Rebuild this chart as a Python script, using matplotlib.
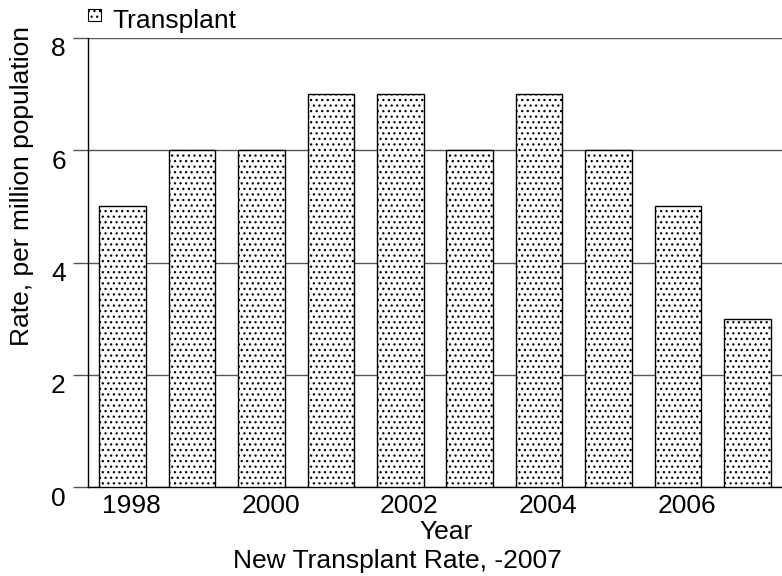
import matplotlib
matplotlib.use("Agg")
import matplotlib.pyplot as plt
import matplotlib.transforms as mtransforms
from matplotlib.patches import Rectangle

years = [1998, 1999, 2000, 2001, 2002, 2003, 2004, 2005, 2006, 2007]
rates = [5, 6, 6, 7, 7, 6, 7, 6, 5, 3]
xtick_years = [1998, 2000, 2002, 2004, 2006]
yticks = [0, 2, 4, 6, 8]

plt.rcParams['font.family'] = ['Liberation Sans', 'DejaVu Sans']
plt.rcParams['hatch.linewidth'] = 0.9
plt.rcParams['hatch.color'] = '#555555'

W, H = 782, 576
fig = plt.figure(figsize=(W/100, H/100), dpi=100)
ax = fig.add_axes([88/W, 89/H, 1 - 88/W, (487-38)/H])

ax.bar(years, rates, width=0.67, color='white', edgecolor='black', linewidth=1.0,
       hatch='...', zorder=3)

ax.set_xlim(1997.5, 2007.5)
ax.set_ylim(0, 8)
ax.set_yticks(yticks)
ax.set_xticks(xtick_years)
ax.tick_params(axis='x', length=0, labelsize=19, pad=5)
ax.tick_params(axis='y', length=11, width=1, direction='out', labelsize=19, pad=5, color='#555555')
ax.yaxis.grid(True, color='#555555', linewidth=1, zorder=0)
for s in ['top', 'right']:
    ax.spines[s].set_visible(False)
ax.spines['left'].set_linewidth(1)
ax.spines['bottom'].set_linewidth(1)

xoff = mtransforms.ScaledTranslation(9/100, 0, fig.dpi_scale_trans)
for lab in ax.get_xticklabels():
    lab.set_transform(lab.get_transform() + xoff)
yoff = mtransforms.ScaledTranslation(0, -9/100, fig.dpi_scale_trans)
for lab in ax.get_yticklabels():
    lab.set_transform(lab.get_transform() + yoff)

fig.text(22/W, 1 - 186/H, 'Rate, per million population', rotation=90,
         ha='center', va='center', fontsize=19)
fig.text(446/W, 1 - 539/H, 'Year', ha='center', va='baseline', fontsize=19)
fig.text(562/W, 1 - 568/H, 'New Transplant Rate, -2007',
         ha='right', va='baseline', fontsize=19)

# legend
fig.patches.append(Rectangle((88/W, 1 - 21/H), 13/W, 12/H, transform=fig.transFigure,
                             facecolor='white', edgecolor='black', linewidth=0.8, hatch='...'))
fig.text(112/W, 1 - 28/H, 'Transplant', ha='left', va='baseline', fontsize=19)

fig.savefig('out.png', dpi=100)
